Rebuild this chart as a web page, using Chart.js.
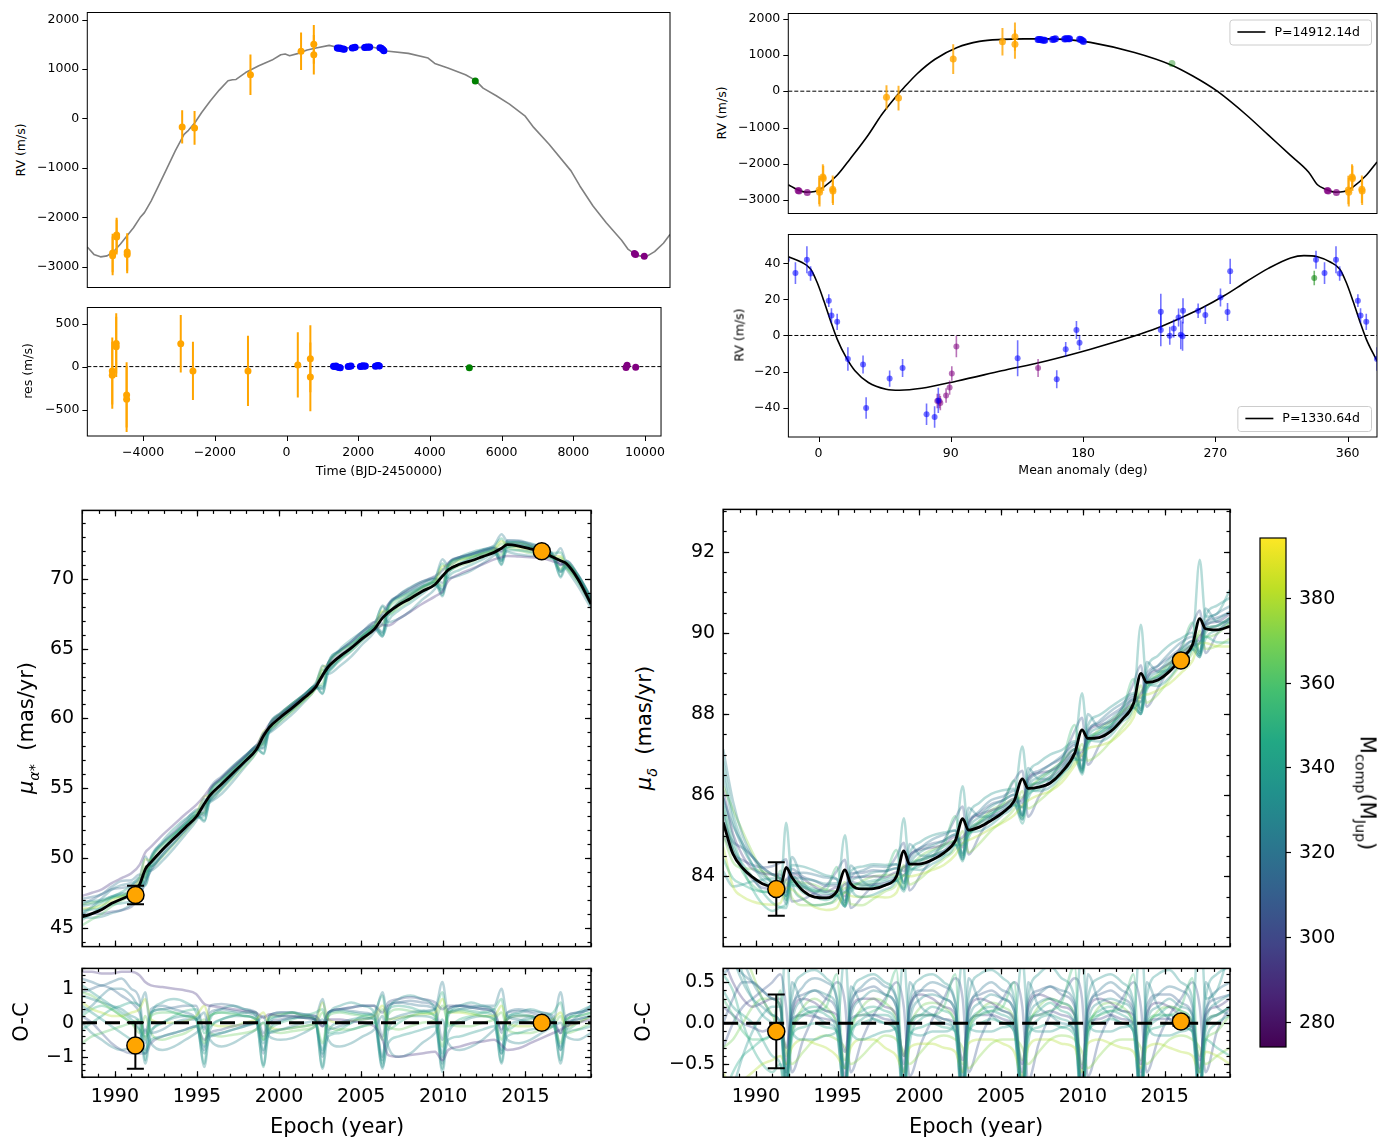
<!DOCTYPE html>
<html>
<head>
<meta charset="utf-8">
<title>RV orbit and proper motion fit</title>
<script src="https://cdn.jsdelivr.net/npm/chart.js@4.4.1/dist/chart.umd.min.js"></script>
<style>
  html, body { margin: 0; padding: 0; background: #fff; }
  body { position: relative; width: 1390px; height: 1140px; overflow: hidden; font-family: 'DejaVu Sans', sans-serif; }
  canvas { position: absolute; }
  .lbl { position: absolute; white-space: nowrap; line-height: 1; color: #000; }
  .lbl sub { font-size: 0.68em; }
</style>
</head>
<body>
<script>
// ---------- RV time series (top left) ----------
const TIME_LIM = [-5556, 10447];
const RV_LIM = [-3420, 2145];
const RES_LIM = [-808, 688];
const TIME_TICKS = [-4000, -2000, 0, 2000, 4000, 6000, 8000, 10000];
const RV_TICKS = [-3000, -2000, -1000, 0, 1000, 2000];
const RES_TICKS = [-500, 0, 500];

const modelTime = [-5556, -5374, -5193, -5012, -4831, -4650, -4469, -4287, -4106, -3986,
  -3804, -3623, -3382, -3140, -2899, -2778, -2597, -2415, -2174, -1932,
  -1691, -1570, -1470, -1208, -845, -483, -242, -121, 0, 242,
  483, 725, 1087, 1250, 1600, 2000, 2300, 2600, 2657, 3261,
  3804, 3986, 4348, 4831, 5097, 5314, 5676, 6039, 6461, 6703,
  7126, 7729, 7971, 8333, 8696, 9118, 9300, 9541, 9783, 10024,
  10266, 10447];
const modelRV = [-2600, -2750, -2800, -2780, -2690, -2545, -2380, -2210, -2005, -1905,
  -1670, -1400, -1030, -655, -320, -240, -80, 120, 360, 575,
  765, 785, 790, 930, 1068, 1182, 1290, 1304, 1270, 1318,
  1385, 1425, 1480, 1450, 1430, 1440, 1440, 1385, 1365, 1318,
  1223, 1115, 1020, 885, 777, 615, 460, 290, 55, -180,
  -520, -1060, -1365, -1770, -2110, -2465, -2650, -2770, -2800, -2695,
  -2525, -2345];

const orangeT = [-4860, -4860, -4750, -4750, -4460, -4460, -2950, -2610, -1075, 315, 665, 665];
const orangeRV = [-2720, -2780, -2360, -2400, -2700, -2750, -170, -190, 885, 1360, 1500, 1290];
const orangeRes = [-50, -100, 270, 230, -330, -380, 265, -50, -50, 20, 90, -120];
const orangeErr = [390, 390, 350, 350, 380, 380, 335, 340, 410, 380, 390, 400];
const orangeM = [0.5, 0.8, 3.0, 3.3, 9.7, 9.9, 46.3, 54.5, 91.7, 125.2, 133.7, 133.7];

const blueT = [1310, 1340, 1380, 1420, 1470, 1500, 1720, 1760, 1800, 2060, 2090, 2130, 2170, 2200, 2480, 2520, 2560, 2590];
const blueRV = [1425, 1420, 1425, 1410, 1405, 1400, 1425, 1430, 1440, 1435, 1440, 1445, 1440, 1445, 1430, 1420, 1395, 1370];
const blueRes = [5, 0, 8, -5, -10, -12, 0, 5, 8, 0, 5, 10, 5, 8, 5, 10, 12, 8];
const blueM = [149.4, 150.2, 151.1, 152.1, 153.3, 154.0, 159.3, 160.3, 161.3, 167.5, 168.3, 169.2, 170.2, 170.9, 177.7, 178.6, 179.6, 180.3];

const greenT = [5100];
const greenRV = [760];
const greenRes = [-12];
const greenM = [240.5];

const purpleT = [9470, 9500, 9740];
const purpleRV = [-2730, -2750, -2790];
const purpleRes = [-10, 15, -8];
const purpleM = [346.2, 346.8, 352.4];

// ---------- phase-folded orbits (top right) ----------
const PHASE_LIM = [-20.5, 380];
const PHASE_TICKS = [0, 90, 180, 270, 360];
const OUTER_LIM = [-3366, 2138];
const INNER_LIM = [-56.3, 56];
const INNER_TICKS = [-40, -20, 0, 20, 40];

const outerCurveM = [-20.5, -14.5, -8.5, -2.4, 3.6, 12.7, 21.8, 33.9, 43, 52,
  58.1, 67.2, 79.3, 94.4, 109.5, 124.6, 140, 155, 170, 185,
  215, 240, 254.7, 271.3, 291, 306, 321, 333.4, 339.5, 345.5,
  351.5, 357.6, 363.6, 372.7, 380];
const outerCurveRV = [-2574, -2704, -2778, -2759, -2639, -2315, -1852, -1204, -648, -185,
  93, 481, 880, 1204, 1370, 1425, 1440, 1440, 1420, 1343,
  1065, 722, 417, 0, -648, -1204, -1759, -2222, -2574, -2704,
  -2778, -2759, -2639, -2315, -1950];

const innerCurveM = [-20.5, -11.5, -5.4, -0.9, 3.6, 8.2, 12.7, 18.8, 24.8, 33.9,
  46, 55.1, 70.2, 94.4, 124.6, 154.9, 185.1, 215.4, 230.5, 245.6,
  260.8, 275.9, 291, 306.1, 321.2, 330.3, 339.5, 348.5, 354.6, 359.1,
  363.6, 368.2, 372.7, 378.8, 380];
const innerCurveRV = [43.7, 40.6, 36.9, 29.4, 19.3, 8.1, -2, -12.2, -19.6, -26.1,
  -29.8, -30.4, -29.3, -25.2, -19.6, -14.1, -7.6, -0.2, 4.1, 9.4,
  15.2, 22, 29.8, 37.2, 43, 44.3, 43.7, 40.6, 36.9, 29.4,
  19.3, 8.1, -2, -12.2, -14];

const innerBlueM = [344.3, 352.1, 354.6, 7.0, 8.8, 12.7, 20.0, 30.3, 32.4, 48.4,
  57.2, 73.5, 79.0, 81.5, 135.5, 162.1, 168.2, 175.5, 177.6, 232.9,
  232.9, 239.0, 241.7, 245.0, 246.5, 247.7, 248.0, 258.3, 263.2, 273.5,
  278.3, 280.1, 338.5];
const innerBlueRV = [34.6, 42.0, 34.4, 19.3, 11.1, 7.6, -13.0, -16.1, -40.2, -23.9,
  -18.0, -43.7, -45.2, -36.0, -12.6, -24.3, -7.6, 3.0, -4.0, 13.1,
  3.0, -0.2, 3.9, 10.0, 0.4, -0.4, 13.7, 13.7, 11.3, 21.1,
  13.0, 35.6, 42.0];
const innerBlueErr = [6, 7.5, 4, 3.5, 4, 4.5, 6.5, 5, 6, 4.5,
  5, 6, 6, 7, 10, 5, 4, 5, 4, 10,
  9, 5, 5, 5, 8, 8, 7, 4, 5, 5,
  5, 7, 5];
const innerPurpleM = [80.8, 82.3, 82.9, 86.8, 89.2, 90.7, 93.8, 149.4];
const innerPurpleRV = [-36.3, -36.3, -37.5, -33.3, -28.9, -21.1, -6.1, -18.0];
const innerPurpleErr = [4, 4, 4, 4, 4, 4, 6, 5];
const innerGreenM = [337.3];
const innerGreenRV = [31.9];
const innerGreenErr = [4];

// ---------- proper motions (bottom) ----------
const EPOCH_LIM = [1988, 2019];
const EPOCH_TICKS = [1990, 1995, 2000, 2005, 2010, 2015];
const PMRA_LIM = [43.64, 74.91];
const PMRA_TICKS = [45, 50, 55, 60, 65, 70];
const PMDEC_LIM = [82.27, 93.04];
const PMDEC_TICKS = [84, 86, 88, 90, 92];
const PMRA_OC_LIM = [-1.6, 1.6];
const PMRA_OC_TICKS = [-1, 0, 1];
const PMDEC_OC_LIM = [-0.66, 0.67];
const PMDEC_OC_TICKS = [-0.5, 0, 0.5];
const MASS_LIM = [274.1, 394.1];
const CBAR_TICKS = [280, 300, 320, 340, 360, 380];

const epochs = [1988.0, 1988.6, 1989.2, 1989.8, 1990.4, 1991.0, 1991.5,
  1991.85, 1992.2, 1992.9, 1993.6, 1994.3, 1994.95,
  1995.45, 1995.8, 1996.5, 1997.2, 1997.9, 1998.6,
  1999.05, 1999.4, 2000.1, 2000.8, 2001.5, 2002.2,
  2002.65, 2003.0, 2003.7, 2004.4, 2005.1, 2005.8,
  2006.3, 2006.65, 2007.3, 2008.0, 2008.7, 2009.5,
  2009.95, 2010.3, 2011.0, 2011.7, 2012.4, 2013.1,
  2013.55, 2013.9, 2014.6, 2015.3, 2016.0, 2016.7,
  2017.15, 2017.5, 2018.2, 2019.0];

const pmraBest = [45.77, 46.0, 46.3, 46.74, 47.05, 47.4, 48.1,
  49.2, 49.7, 50.6, 51.4, 52.2, 52.95,
  53.9, 54.5, 55.3, 56.1, 56.9, 57.75,
  58.75, 59.35, 60.1, 60.75, 61.45, 62.2,
  63.1, 63.7, 64.45, 65.05, 65.75, 66.4,
  67.2, 67.6, 68.15, 68.6, 69.1, 69.6,
  70.2, 70.65, 71.05, 71.3, 71.6, 71.9,
  72.2, 72.45, 72.35, 72.15, 71.95, 71.55,
  71.3, 71.1, 70.0, 68.2];

const pmdecBest = [85.33, 84.55, 84.2, 83.98, 83.82, 83.75, 83.74,
  84.22, 83.98, 83.64, 83.49, 83.47, 83.63,
  84.16, 83.82, 83.69, 83.70, 83.78, 84.0,
  84.63, 84.3, 84.31, 84.41, 84.58, 84.88,
  85.42, 85.14, 85.22, 85.38, 85.57, 85.86,
  86.4, 86.17, 86.2, 86.3, 86.56, 87.03,
  87.61, 87.4, 87.42, 87.57, 87.86, 88.26,
  89.0, 88.78, 88.84, 89.05, 89.36, 89.7,
  90.35, 90.1, 90.07, 90.16];

// posterior draws: O-C against the best fit, one row per draw
const pmraMass = [292, 330, 324, 362, 336, 304, 380, 342, 366, 318, 334, 328, 350, 312];
const pmraResid = [
  [1.5, 1.5, 1.45, 1.45, 1.5, 1.5, 1.4, 1.2, 1.1, 1.05, 1.0, 0.95, 0.85, 0.55, 0.5, 0.45, 0.4, 0.35, 0.3, 0.15, 0.25, 0.2, 0.2, 0.15, 0.1, -0.1, 0.1, 0.1, 0.05, 0.0, -0.1,
   -0.5, -0.95, -1.0, -0.95, -0.9, -0.85, -1.1, -0.8, -0.7, -0.6, -0.55, -0.5, -0.65, -0.8, -0.75, -0.6, -0.45, -0.3, -0.2, -0.1, 0.0, 0.1],
  [0.8, 0.7, 0.6, 0.5, 0.4, 0.2, 0.0, -1.2, -0.3, 0.0, 0.15, 0.2, 0.15, -1.3, -0.2, 0.1, 0.2, 0.2, 0.1, -1.25, -0.2, 0.05, 0.15, 0.15, 0.1, -1.35, -0.25, 0.0, 0.1, 0.15, 0.1,
   -1.35, -0.2, 0.1, 0.2, 0.2, 0.1, -1.45, -0.3, 0.0, 0.15, 0.2, 0.1, -1.2, -0.2, 0.05, 0.15, 0.15, 0.05, -1.2, -0.2, 0.1, 0.2],
  [0.3, 0.5, 0.8, 1.0, 1.0, 0.8, 0.5, 0.9, -0.3, -0.2, 0.0, 0.1, 0.1, 0.3, -0.4, -0.3, -0.2, -0.1, 0.0, 0.2, -0.3, -0.2, -0.1, 0.0, 0.1, 0.7, -0.2, -0.1, 0.0, 0.1, 0.2,
   0.9, 0.1, 0.2, 0.3, 0.35, 0.4, 1.2, 0.3, 0.4, 0.45, 0.5, 0.5, 1.0, 0.2, 0.1, 0.0, -0.1, 0.0, 0.9, 0.0, 0.2, 0.5],
  [-0.6, -0.4, -0.3, -0.2, -0.1, 0.0, 0.1, -0.5, 0.2, 0.3, 0.3, 0.2, 0.1, -0.6, 0.2, 0.3, 0.25, 0.2, 0.1, -0.5, 0.15, 0.25, 0.3, 0.2, 0.1, -0.6, 0.2, 0.3, 0.25, 0.2, 0.1,
   -0.5, 0.25, 0.4, 0.35, 0.3, 0.2, -0.7, 0.3, 0.35, 0.3, 0.2, 0.1, -0.5, 0.1, 0.2, 0.2, 0.1, 0.0, -0.6, 0.1, 0.2, 0.3],
  [1.1, 0.9, 0.7, 0.5, 0.3, 0.1, -0.2, -0.8, -0.5, -0.4, -0.3, -0.2, -0.1, -0.9, -0.4, -0.3, -0.2, -0.1, 0.0, -0.8, -0.3, -0.2, -0.15, -0.1, -0.05, -0.9, -0.4, -0.3, -0.2, -0.1, 0.0,
   -1.3, -0.6, -0.4, -0.3, -0.2, -0.1, -1.0, -0.5, -0.4, -0.3, -0.2, -0.1, -0.9, -0.4, -0.3, -0.2, -0.15, -0.1, -0.8, -0.3, -0.2, -0.1],
  [0.2, 0.0, -0.3, -0.6, -0.8, -0.9, -0.9, -0.9, -0.6, -0.4, -0.3, -0.2, -0.1, -0.5, -0.3, -0.2, -0.1, -0.05, 0.0, -0.4, 0.0, 0.1, 0.15, 0.2, 0.2, 0.0, 0.3, 0.4, 0.45, 0.5, 0.5,
   0.3, 0.6, 0.7, 0.75, 0.7, 0.6, 0.4, 0.5, 0.5, 0.45, 0.4, 0.3, -0.2, 0.1, 0.2, 0.2, 0.1, 0.0, -0.3, 0.0, 0.1, 0.2],
  [0.6, 0.4, 0.3, 0.2, 0.2, 0.3, 0.4, 0.7, 0.1, 0.0, 0.0, 0.05, 0.2, 0.5, 0.0, -0.1, -0.1, 0.0, 0.1, 0.3, -0.1, -0.2, -0.15, -0.1, 0.0, 0.6, 0.1, 0.0, 0.05, 0.1, 0.2,
   0.5, 0.1, 0.15, 0.2, 0.25, 0.3, 0.7, 0.3, 0.3, 0.25, 0.2, 0.2, 0.5, 0.0, -0.1, -0.1, 0.0, 0.1, 0.3, -0.1, 0.0, 0.2],
  [-0.2, 0.0, 0.2, 0.4, 0.5, 0.6, 0.5, -1.1, 0.3, 0.4, 0.3, 0.2, 0.1, -1.2, 0.2, 0.3, 0.3, 0.2, 0.1, -1.3, 0.1, 0.2, 0.2, 0.15, 0.1, -1.3, 0.3, 0.35, 0.3, 0.25, 0.2,
   -1.2, 0.4, 0.5, 0.45, 0.35, 0.2, -1.35, 0.3, 0.4, 0.35, 0.3, 0.2, -1.15, 0.2, 0.25, 0.2, 0.1, 0.0, -1.1, 0.1, 0.2, 0.3],
  [0.9, 0.8, 0.6, 0.4, 0.2, 0.0, -0.3, 0.2, -0.3, -0.5, -0.4, -0.3, -0.1, 0.1, -0.3, -0.4, -0.35, -0.3, -0.2, 0.0, -0.2, -0.3, -0.25, -0.2, -0.1, 0.3, -0.1, -0.2, -0.2, -0.1, 0.0,
   0.4, -0.1, -0.2, -0.1, 0.0, 0.1, 0.5, 0.0, -0.1, -0.1, 0.0, 0.1, 0.3, -0.2, -0.3, -0.3, -0.2, -0.1, 0.2, -0.3, -0.2, 0.0],
  [1.3, 1.2, 1.1, 1.2, 1.3, 1.0, 0.7, -0.6, 0.4, 0.5, 0.4, 0.3, 0.1, -0.8, 0.3, 0.4, 0.35, 0.3, 0.2, -0.9, 0.2, 0.3, 0.3, 0.2, 0.1, -1.0, 0.3, 0.4, 0.35, 0.3, 0.2,
   -1.1, 0.5, 0.6, 0.55, 0.5, 0.4, -1.2, 0.4, 0.5, 0.45, 0.4, 0.3, -0.9, 0.3, 0.4, 0.35, 0.3, 0.2, -0.8, 0.2, 0.3, 0.4],
  [0.5, 0.3, 0.1, -0.1, -0.3, -0.5, -0.7, -0.9, 0.2, 0.6, 0.7, 0.6, 0.3, -0.7, 0.1, 0.4, 0.5, 0.4, 0.2, -0.6, 0.0, 0.2, 0.3, 0.25, 0.1, -0.8, 0.2, 0.5, 0.6, 0.5, 0.3,
   -1.0, 0.3, 0.7, 0.8, 0.7, 0.4, -0.9, 0.2, 0.5, 0.6, 0.5, 0.3, -0.8, 0.1, 0.3, 0.4, 0.3, 0.1, -0.7, 0.0, 0.3, 0.5],
  [0.0, -0.3, -0.5, -0.7, -0.8, -0.7, -0.5, -0.2, -0.6, -0.8, -0.7, -0.5, -0.3, -0.1, -0.5, -0.7, -0.6, -0.4, -0.2, 0.0, -0.4, -0.5, -0.45, -0.3, -0.1, 0.1, -0.5, -0.7, -0.6, -0.4, -0.2,
   0.2, -0.7, -1.0, -0.9, -0.6, -0.3, 0.1, -0.6, -0.8, -0.7, -0.5, -0.2, 0.0, -0.5, -0.6, -0.5, -0.3, -0.1, 0.0, -0.4, -0.5, -0.3],
  [0.2, 0.4, 0.5, 0.4, 0.2, 0.0, -0.2, -0.4, -0.2, 0.0, 0.2, 0.35, 0.4, -0.3, -0.1, 0.1, 0.2, 0.3, 0.3, -0.5, -0.2, 0.0, 0.1, 0.2, 0.3, 0.4, -0.3, -0.2, 0.0, 0.2, 0.3,
   0.8, -0.2, 0.0, 0.2, 0.3, 0.4, 0.9, -0.1, 0.1, 0.2, 0.3, 0.4, 0.7, -0.2, 0.0, 0.1, 0.2, 0.3, 0.6, -0.2, 0.0, 0.2],
  [0.9, 1.0, 1.1, 1.0, 0.8, 0.6, 0.3, -0.3, 0.3, 0.4, 0.45, 0.5, 0.5, -0.2, 0.5, 0.55, 0.5, 0.4, 0.3, -0.3, 0.2, 0.3, 0.3, 0.25, 0.2, -0.1, 0.3, 0.4, 0.45, 0.5, 0.5,
   -0.4, 0.5, 0.6, 0.65, 0.6, 0.5, -0.5, 0.4, 0.5, 0.5, 0.45, 0.4, -0.3, 0.3, 0.35, 0.3, 0.2, 0.1, -0.3, 0.2, 0.3, 0.4]
];

const pmdecMass = [330, 345, 320, 336, 355, 300, 380, 294, 326, 368, 340, 310, 334, 372, 306, 344];
const pmdecResid = [
  [1.2, 0.8, 0.5, 0.3, 0.2, 0.1, 0.0, -0.7, 0.0, 0.3, 0.4, 0.35, 0.2, -0.75, 0.05, 0.3, 0.4, 0.35, 0.2, -0.8, 0.0, 0.3, 0.35, 0.3, 0.15, -0.95, 0.0, 0.25, 0.35, 0.3, 0.15,
   -0.9, 0.0, 0.25, 0.3, 0.25, 0.1, -1.0, 0.0, 0.25, 0.3, 0.25, 0.1, -0.95, 0.0, 0.2, 0.3, 0.2, 0.1, -0.9, 0.0, 0.25, 0.35],
  [-0.9, -0.6, -0.4, -0.3, -0.2, -0.15, -0.1, -0.6, -0.15, -0.05, 0.0, -0.05, -0.1, -0.55, -0.1, 0.0, 0.05, 0.0, -0.1, -0.6, -0.15, -0.05, 0.0, -0.05, -0.1, -0.65, -0.1, 0.0, 0.05, 0.0, -0.1,
   -0.7, -0.15, -0.05, 0.0, -0.05, -0.15, -0.75, -0.1, 0.0, 0.05, 0.0, -0.1, -0.7, -0.15, -0.05, 0.0, -0.05, -0.1, -0.6, -0.2, -0.3, -0.4],
  [0.6, 0.7, 0.6, 0.5, 0.4, 0.3, 0.2, -0.7, 0.1, 0.45, 0.55, 0.5, 0.3, -0.8, 0.15, 0.45, 0.55, 0.45, 0.3, -0.75, 0.1, 0.4, 0.5, 0.45, 0.25, -0.85, 0.1, 0.4, 0.5, 0.4, 0.25,
   -0.9, 0.1, 0.35, 0.45, 0.4, 0.25, -0.95, 0.1, 0.4, 0.5, 0.4, 0.2, -0.9, 0.05, 0.35, 0.45, 0.4, 0.2, -0.85, 0.1, 0.4, 0.5],
  [1.5, 1.0, 0.6, 0.3, 0.1, 0.0, -0.1, 1.1, -0.1, -0.2, -0.2, -0.15, -0.1, 0.85, -0.1, -0.2, -0.15, -0.1, -0.05, 0.8, -0.1, -0.15, -0.1, -0.1, 0.0, 0.8, -0.05, -0.1, -0.1, -0.05, 0.0,
   0.8, 0.0, -0.1, -0.1, -0.05, 0.05, 0.9, 0.0, -0.1, -0.1, -0.05, 0.0, 1.2, 0.0, -0.15, -0.15, -0.1, 0.0, 1.45, 0.3, 0.4, 0.9],
  [0.3, 0.1, -0.1, -0.2, -0.2, -0.1, 0.4, -0.8, 0.0, 0.1, 0.15, 0.2, 0.6, -0.85, 0.0, 0.1, 0.15, 0.25, 0.65, -0.9, 0.0, 0.1, 0.1, 0.2, 0.6, -0.9, 0.0, 0.1, 0.15, 0.2, 0.5,
   -0.95, 0.05, 0.1, 0.15, 0.25, 0.7, -1.0, 0.0, 0.1, 0.15, 0.2, 0.6, -0.9, 0.0, 0.1, 0.1, 0.2, 0.55, -0.85, 0.0, 0.1, 0.2],
  [0.2, 0.1, 0.0, -0.05, -0.1, -0.05, 0.0, -0.3, 0.05, 0.1, 0.08, 0.05, 0.0, -0.35, 0.05, 0.1, 0.1, 0.05, 0.0, -0.4, 0.0, 0.1, 0.1, 0.05, 0.0, -0.45, 0.0, 0.1, 0.1, 0.05, -0.05,
   -0.5, 0.0, 0.1, 0.15, 0.1, 0.0, -0.55, 0.0, 0.05, 0.1, 0.05, 0.0, -0.5, 0.0, 0.05, 0.05, 0.0, -0.05, -0.45, 0.0, 0.1, 0.2],
  [-0.6, -0.8, -0.7, -0.6, -0.5, -0.45, -0.4, -0.5, -0.3, -0.2, -0.25, -0.3, -0.4, -0.55, -0.3, -0.2, -0.2, -0.3, -0.4, -0.6, -0.3, -0.25, -0.25, -0.3, -0.35, -0.6, -0.25, -0.2, -0.2, -0.25, -0.35,
   -0.65, -0.3, -0.2, -0.2, -0.25, -0.3, -0.6, -0.25, -0.2, -0.25, -0.3, -0.35, -0.55, -0.3, -0.25, -0.3, -0.35, -0.4, -0.6, -0.35, -0.4, -0.5],
  [0.8, 0.5, 0.3, 0.2, 0.25, 0.3, 0.3, -0.6, 0.1, 0.3, 0.25, 0.15, 0.1, -0.65, 0.15, 0.3, 0.3, 0.2, 0.1, -0.6, 0.2, 0.35, 0.3, 0.2, 0.1, -0.7, 0.15, 0.3, 0.25, 0.15, 0.05,
   -0.7, 0.2, 0.35, 0.3, 0.2, 0.1, -0.75, 0.15, 0.3, 0.25, 0.15, 0.1, -0.7, 0.1, 0.25, 0.2, 0.1, 0.0, -0.6, 0.1, 0.2, 0.3],
  [1.8, 1.3, 0.8, 0.5, 0.3, 0.1, 0.0, -0.9, 0.5, 0.2, 0.1, 0.0, -0.1, -0.9, 0.45, 0.2, 0.05, 0.0, -0.1, -0.95, 0.5, 0.2, 0.1, 0.0, -0.1, -1.0, 0.55, 0.25, 0.1, 0.0, -0.1,
   -1.0, 0.5, 0.2, 0.1, 0.0, -0.1, -1.05, 0.6, 0.25, 0.1, 0.0, -0.1, -1.0, 0.5, 0.2, 0.05, -0.05, -0.1, -0.95, 0.5, 0.2, 0.1],
  [-0.3, -0.2, 0.0, 0.2, 0.3, 0.3, 0.2, -0.4, -0.1, 0.2, 0.3, 0.2, 0.0, -0.45, -0.1, 0.2, 0.3, 0.25, 0.05, -0.4, -0.05, 0.2, 0.25, 0.2, 0.0, -0.5, -0.1, 0.15, 0.25, 0.2, 0.05,
   -0.45, -0.05, 0.2, 0.3, 0.25, 0.1, -0.5, -0.1, 0.2, 0.25, 0.2, 0.0, -0.45, -0.1, 0.15, 0.2, 0.15, 0.0, -0.4, -0.2, -0.1, 0.1],
  [0.4, 0.2, 0.1, 0.0, -0.2, -0.4, -0.5, -1.0, -0.2, 0.1, 0.15, 0.1, -0.1, -0.9, -0.2, 0.05, 0.1, 0.1, -0.1, -1.0, -0.25, 0.05, 0.1, 0.05, -0.1, -1.05, -0.2, 0.1, 0.15, 0.1, -0.05,
   -1.1, -0.25, 0.05, 0.1, 0.05, -0.1, -1.1, -0.2, 0.1, 0.15, 0.1, -0.1, -1.0, -0.2, 0.05, 0.1, 0.05, -0.1, -0.95, -0.25, 0.0, 0.1],
  [0.0, 0.3, 0.5, 0.5, 0.4, 0.3, 0.2, -0.5, 0.2, 0.35, 0.4, 0.3, 0.15, -0.55, 0.25, 0.4, 0.45, 0.35, 0.2, -0.5, 0.2, 0.4, 0.4, 0.3, 0.15, -0.6, 0.2, 0.35, 0.4, 0.3, 0.15,
   -0.6, 0.25, 0.4, 0.45, 0.35, 0.2, -0.65, 0.2, 0.35, 0.4, 0.3, 0.15, -0.6, 0.2, 0.35, 0.35, 0.25, 0.1, -0.55, 0.15, 0.3, 0.35],
  [-1.2, -0.8, -0.4, -0.1, 0.1, 0.2, 0.2, -0.8, 0.3, 0.6, 0.65, 0.55, 0.3, -0.85, 0.3, 0.55, 0.6, 0.5, 0.3, -0.8, 0.25, 0.55, 0.6, 0.5, 0.25, -0.9, 0.3, 0.6, 0.65, 0.55, 0.3,
   -0.9, 0.3, 0.6, 0.7, 0.55, 0.3, -0.95, 0.3, 0.55, 0.6, 0.5, 0.25, -0.85, 0.3, 0.6, 0.65, 0.5, 0.3, -0.8, 0.3, 0.6, 0.7],
  [0.9, 1.1, 0.9, 0.6, 0.3, 0.1, -0.1, -0.3, -0.5, -0.35, -0.2, -0.15, -0.2, -0.3, -0.5, -0.4, -0.25, -0.15, -0.2, -0.35, -0.5, -0.35, -0.2, -0.15, -0.2, -0.3, -0.55, -0.4, -0.25, -0.2, -0.2,
   -0.3, -0.5, -0.35, -0.2, -0.15, -0.2, -0.35, -0.55, -0.4, -0.25, -0.2, -0.2, -0.3, -0.5, -0.35, -0.2, -0.15, -0.2, -0.3, -0.5, -0.4, -0.3],
  [-0.3, 0.0, 0.2, 0.3, 0.4, 0.5, 0.6, 0.2, -0.6, -0.2, 0.1, 0.3, 0.5, 0.25, -0.6, -0.2, 0.1, 0.3, 0.5, 0.2, -0.65, -0.25, 0.05, 0.3, 0.55, 0.3, -0.6, -0.2, 0.1, 0.3, 0.5,
   0.2, -0.7, -0.25, 0.1, 0.3, 0.55, 0.3, -0.65, -0.2, 0.1, 0.3, 0.5, 0.2, -0.6, -0.2, 0.1, 0.3, 0.5, 0.2, -0.6, -0.1, 0.2],
  [0.6, 0.4, 0.0, -0.3, -0.5, -0.6, -0.5, -0.9, -0.1, 0.15, 0.2, 0.15, 0.0, -0.9, -0.1, 0.15, 0.2, 0.15, 0.0, -0.95, -0.1, 0.1, 0.2, 0.15, 0.0, -1.0, -0.1, 0.15, 0.2, 0.15, 0.0,
   -1.0, -0.1, 0.15, 0.25, 0.15, 0.0, -1.05, -0.1, 0.15, 0.2, 0.15, 0.0, -1.0, -0.1, 0.1, 0.2, 0.15, 0.0, -0.9, -0.1, 0.1, 0.2]
];

// Hipparcos and Gaia measurements
const obsEpoch = [1991.25, 2016.0];
const pmraObs = [47.34, 71.98];
const pmraErr = [0.66, 0.05];
const pmraOC = [-0.67, 0.0];
const pmraOCErr = [0.68, 0.05];
const pmdecObs = [83.69, 89.32];
const pmdecErr = [0.66, 0.05];
const pmdecOC = [-0.10, 0.02];
const pmdecOCErr = [0.45, 0.05];

// ---------- drawing ----------
const FONT = "'DejaVu Sans', sans-serif";
const fmtInt = v => String(v).replace('-', '\u2212');
const fmtOne = v => v.toFixed(1).replace('-', '\u2212');
const steps = (a, b, s) => { const out = []; for (let v = a; v <= b + 1e-9; v += s) out.push(+v.toFixed(4)); return out; };

const VIRIDIS = [[68, 1, 84], [72, 36, 117], [65, 68, 135], [53, 95, 141], [42, 120, 142], [33, 145, 140],
  [34, 168, 132], [68, 191, 112], [122, 209, 81], [189, 223, 38], [253, 231, 37]];
function viridis(t) {
  t = Math.max(0, Math.min(1, t));
  const s = t * 10, i = Math.min(9, Math.floor(s)), f = s - i;
  return VIRIDIS[i].map((c, k) => Math.round(c + (VIRIDIS[i + 1][k] - c) * f));
}
function massColor(m, a) {
  const c = viridis((m - MASS_LIM[0]) / (MASS_LIM[1] - MASS_LIM[0]));
  return `rgba(${c[0]},${c[1]},${c[2]},${a})`;
}

// vertical error bars, drawn just before the markers they belong to
const errorBars = {
  id: 'errorBars',
  beforeDatasetDraw(chart, args) {
    const ds = chart.data.datasets[args.index];
    if (!ds.err) return;
    const xs = chart.scales.x, ys = chart.scales.y, ctx = chart.ctx, a = chart.chartArea;
    ctx.save();
    ctx.beginPath();
    ctx.rect(a.left, a.top, a.right - a.left, a.bottom - a.top);
    ctx.clip();
    ctx.strokeStyle = ds.errColor;
    ctx.lineWidth = ds.errWidth || 1.5;
    ds.data.forEach((p, i) => {
      const e = ds.err[i];
      if (!e) return;
      const px = xs.getPixelForValue(p.x);
      const y1 = ys.getPixelForValue(p.y - e), y2 = ys.getPixelForValue(p.y + e);
      ctx.beginPath();
      ctx.moveTo(px, y1); ctx.lineTo(px, y2);
      if (ds.cap) {
        ctx.moveTo(px - ds.cap, y1); ctx.lineTo(px + ds.cap, y1);
        ctx.moveTo(px - ds.cap, y2); ctx.lineTo(px + ds.cap, y2);
      }
      ctx.stroke();
    });
    ctx.restore();
  }
};

// axes box plus tick marks (inward for the proper motion panels)
const frame = {
  id: 'frame',
  afterDraw(chart) {
    const o = chart.config.options.plugins.frame;
    if (!o) return;
    const a = chart.chartArea, ctx = chart.ctx;
    const d = o.inward ? 1 : -1;
    ctx.save();
    ctx.strokeStyle = '#000';
    ctx.lineWidth = o.tickWidth;
    const draw = (vals, len, scale, sides) => {
      vals.forEach(v => {
        if (v < scale.min - 1e-9 || v > scale.max + 1e-9) return;
        const p = Math.round(scale.getPixelForValue(v)) + 0.5;
        sides.forEach(side => {
          ctx.beginPath();
          if (side === 'bottom') { ctx.moveTo(p, a.bottom); ctx.lineTo(p, a.bottom - d * len); }
          if (side === 'top') { ctx.moveTo(p, a.top); ctx.lineTo(p, a.top + d * len); }
          if (side === 'left') { ctx.moveTo(a.left, p); ctx.lineTo(a.left + d * len, p); }
          if (side === 'right') { ctx.moveTo(a.right, p); ctx.lineTo(a.right - d * len, p); }
          ctx.stroke();
        });
      });
    };
    draw(o.xMajor || [], o.majorLen, chart.scales.x, o.xSides || []);
    draw(o.xMinor || [], o.minorLen, chart.scales.x, o.xSides || []);
    draw(o.yMajor || [], o.majorLen, chart.scales.y, o.ySides || []);
    draw(o.yMinor || [], o.minorLen, chart.scales.y, o.ySides || []);
    ctx.lineWidth = o.width;
    ctx.strokeRect(a.left, a.top, a.right - a.left, a.bottom - a.top);
    // tick labels to the right of the box (colour bar)
    if (o.rightLabels) {
      ctx.fillStyle = '#000';
      ctx.font = `${o.labelSize}px ${FONT}`;
      ctx.textAlign = 'left';
      ctx.textBaseline = 'middle';
      o.yMajor.forEach(v => ctx.fillText(fmtInt(v), a.right + o.labelPad, chart.scales.y.getPixelForValue(v) + 1));
    }
    ctx.restore();
  }
};

// small framed legend with a single line entry
const boxLegend = {
  id: 'boxLegend',
  afterDraw(chart) {
    const o = chart.config.options.plugins.boxLegend;
    if (!o) return;
    const a = chart.chartArea, ctx = chart.ctx;
    ctx.save();
    ctx.font = `12.5px ${FONT}`;
    const w = ctx.measureText(o.text).width + 56, h = 25;
    const x = a.right - 6 - w;
    const y = o.corner === 'top' ? a.top + 6 : a.bottom - 6 - h;
    ctx.beginPath();
    ctx.roundRect(x + 0.5, y + 0.5, w, h, 3);
    ctx.fillStyle = 'rgba(255,255,255,0.8)';
    ctx.fill();
    ctx.strokeStyle = '#cccccc';
    ctx.lineWidth = 1;
    ctx.stroke();
    ctx.beginPath();
    ctx.moveTo(x + 8, y + h / 2); ctx.lineTo(x + 36, y + h / 2);
    ctx.strokeStyle = '#000';
    ctx.lineWidth = 1.6;
    ctx.stroke();
    ctx.fillStyle = '#000';
    ctx.textBaseline = 'middle';
    ctx.fillText(o.text, x + 45, y + h / 2 + 0.5);
    ctx.restore();
  }
};

// viridis ramp filling the colour bar
const colorRamp = {
  id: 'colorRamp',
  beforeDatasetsDraw(chart) {
    if (!chart.config.options.plugins.colorRamp) return;
    const a = chart.chartArea, ctx = chart.ctx;
    const g = ctx.createLinearGradient(0, a.bottom, 0, a.top);
    VIRIDIS.forEach((c, i) => g.addColorStop(i / 10, `rgb(${c[0]},${c[1]},${c[2]})`));
    ctx.fillStyle = g;
    ctx.fillRect(a.left, a.top, a.right - a.left, a.bottom - a.top);
  }
};

function axisCfg(lim, ticks, fmt, show, size, pad, position) {
  return {
    type: 'linear', position: position, min: lim[0], max: lim[1],
    grid: { display: false, drawTicks: false }, border: { display: false },
    afterBuildTicks: s => { s.ticks = ticks.map(v => ({ value: v })); },
    ticks: { display: show, autoSkip: false, maxRotation: 0, padding: pad, color: '#000',
      font: { family: FONT, size: size }, callback: v => fmt(v) }
  };
}

function chartCfg(datasets, xAxis, yAxis, frameOpts, extra, padding) {
  return {
    type: 'scatter',
    data: { datasets: datasets },
    options: {
      responsive: false, maintainAspectRatio: false, animation: false, devicePixelRatio: 1, events: [],
      layout: { padding: padding || 0 },
      scales: { x: xAxis, y: yAxis },
      plugins: Object.assign({ legend: { display: false }, tooltip: { enabled: false }, frame: frameOpts }, extra || {})
    },
    plugins: [errorBars, frame, boxLegend, colorRamp]
  };
}

function markers(xs, ys, color, radius, extra) {
  return Object.assign({
    data: xs.map((x, i) => ({ x: x, y: ys[i] })),
    showLine: false, pointRadius: radius, pointBackgroundColor: color,
    pointBorderColor: color, pointBorderWidth: 0, order: 0, clip: 0
  }, extra || {});
}

function curve(xs, ys, color, width, smooth, order) {
  return {
    data: xs.map((x, i) => ({ x: x, y: ys[i] })),
    showLine: true, pointRadius: 0, borderColor: color, borderWidth: width,
    cubicInterpolationMode: smooth ? 'monotone' : 'default', tension: 0,
    borderJoinStyle: 'round', order: order === undefined ? 1 : order, clip: 0
  };
}

function zeroLine(xLim, width, dash) {
  return Object.assign(curve(xLim, [0, 0], '#000', width, false, 1), { borderDash: dash });
}

// repeat phase-folded points one cycle either side when they land inside the axis
function fold(ms, vs, es) {
  const out = { x: [], y: [], e: [] };
  ms.forEach((m, i) => {
    [m - 360, m, m + 360].forEach(s => {
      if (s >= PHASE_LIM[0] - 2 && s <= PHASE_LIM[1] + 2) {
        out.x.push(s); out.y.push(vs[i]); out.e.push(es ? es[i] : 0);
      }
    });
  });
  return out;
}

function drawSamples(best, resid, mass, residOnly) {
  return resid.map((r, k) => ({
    data: epochs.map((t, i) => ({ x: t, y: residOnly ? r[i] : best[i] + r[i] })),
    showLine: true, pointRadius: 0, borderWidth: 2.5, borderColor: massColor(mass[k], 0.33),
    cubicInterpolationMode: 'monotone', order: 2, clip: 0
  }));
}

function addPanel(box, makeCfg) {
  const build = (w, h, left, top) => {
    const cv = document.createElement('canvas');
    cv.width = w; cv.height = h;
    cv.style.left = left + 'px'; cv.style.top = top + 'px';
    cv.style.width = w + 'px'; cv.style.height = h + 'px';
    document.body.appendChild(cv);
    return new Chart(cv, makeCfg());
  };
  const probe = build(1000, 800, 0, 0);
  const a = probe.chartArea;
  const pad = [a.left, a.top, 1000 - a.right, 800 - a.bottom];
  const old = probe.canvas;
  probe.destroy();
  old.remove();
  const w = box[2] - box[0], h = box[3] - box[1];
  return build(Math.round(w + pad[0] + pad[2]), Math.round(h + pad[1] + pad[3]),
    Math.round(box[0] - pad[0]), Math.round(box[1] - pad[1]));
}

function addText(html, cx, cy, size, rot) {
  const d = document.createElement('div');
  d.className = 'lbl';
  d.innerHTML = html;
  d.style.left = cx + 'px';
  d.style.top = cy + 'px';
  d.style.font = `${size}px ${FONT}`;
  d.style.transform = `translate(-50%, -50%) rotate(${rot || 0}deg)`;
  document.body.appendChild(d);
}

const TOP_FS = 12.5, BOT_FS = 19;
const topFrame = (xTicks, yTicks) => ({
  width: 1, tickWidth: 1, majorLen: 5, minorLen: 0, inward: false,
  xSides: xTicks ? ['bottom'] : [], ySides: ['left'], xMajor: xTicks || [], yMajor: yTicks
});
const botFrame = (yTicks, yMinor) => ({
  width: 1.5, tickWidth: 1.2, majorLen: 6, minorLen: 3.5, inward: true,
  xSides: ['bottom', 'top'], ySides: ['left', 'right'],
  xMajor: EPOCH_TICKS, xMinor: steps(1988, 2019, 1), yMajor: yTicks, yMinor: yMinor
});

// RV against time
addPanel([87, 12, 670, 287], () => chartCfg([
  markers(orangeT, orangeRV, 'orange', 3.5, { err: orangeErr, errColor: 'orange', errWidth: 2 }),
  markers(blueT, blueRV, 'blue', 3.5),
  markers(greenT, greenRV, 'green', 3.5),
  markers(purpleT, purpleRV, 'purple', 3.5),
  curve(modelTime, modelRV, 'gray', 1.6, false)
], axisCfg(TIME_LIM, TIME_TICKS, fmtInt, false, TOP_FS, 8, 'bottom'),
   axisCfg(RV_LIM, RV_TICKS, fmtInt, true, TOP_FS, 8, 'left'),
   topFrame(null, RV_TICKS)));

// residuals against time
addPanel([87, 307, 670, 435], () => chartCfg([
  markers(orangeT, orangeRes, 'orange', 3.5, { err: orangeErr, errColor: 'orange', errWidth: 2 }),
  markers(blueT, blueRes, 'blue', 3.5),
  markers(greenT, greenRes, 'green', 3.5),
  markers(purpleT, purpleRes, 'purple', 3.5),
  zeroLine(TIME_LIM, 1, [4, 2])
], axisCfg(TIME_LIM, TIME_TICKS, fmtInt, true, TOP_FS, 9, 'bottom'),
   axisCfg(RES_LIM, RES_TICKS, fmtInt, true, TOP_FS, 8, 'left'),
   topFrame(TIME_TICKS, RES_TICKS)));

// outer companion, folded
const fOrange = fold(orangeM, orangeRV, orangeErr);
const fBlue = fold(blueM, blueRV);
const fGreen = fold(greenM, greenRV);
const fPurple = fold(purpleM, purpleRV);
addPanel([788, 13, 1377, 213], () => chartCfg([
  markers(fOrange.x, fOrange.y, 'rgba(255,165,0,0.8)', 3.5, { err: fOrange.e, errColor: 'rgba(255,165,0,0.8)', errWidth: 2 }),
  markers(fBlue.x, fBlue.y, 'rgba(0,0,255,0.75)', 3.5),
  markers(fGreen.x, fGreen.y, 'rgba(0,128,0,0.4)', 3.5),
  markers(fPurple.x, fPurple.y, 'rgba(128,0,128,0.7)', 3.5),
  curve(outerCurveM, outerCurveRV, '#000', 1.6, true),
  zeroLine(PHASE_LIM, 1, [4, 2])
], axisCfg(PHASE_LIM, PHASE_TICKS, fmtInt, false, TOP_FS, 8, 'bottom'),
   axisCfg(OUTER_LIM, RV_TICKS, fmtInt, true, TOP_FS, 8, 'left'),
   topFrame(null, RV_TICKS), { boxLegend: { text: 'P=14912.14d', corner: 'top' } }));

// inner companion, folded
const iBlue = fold(innerBlueM, innerBlueRV, innerBlueErr);
const iPurple = fold(innerPurpleM, innerPurpleRV, innerPurpleErr);
const iGreen = fold(innerGreenM, innerGreenRV, innerGreenErr);
addPanel([788, 234, 1377, 436], () => chartCfg([
  markers(iBlue.x, iBlue.y, 'rgba(0,0,255,0.55)', 3, { err: iBlue.e, errColor: 'rgba(0,0,255,0.55)', errWidth: 1.6 }),
  markers(iPurple.x, iPurple.y, 'rgba(128,0,128,0.55)', 3, { err: iPurple.e, errColor: 'rgba(128,0,128,0.55)', errWidth: 1.6 }),
  markers(iGreen.x, iGreen.y, 'rgba(0,128,0,0.55)', 3, { err: iGreen.e, errColor: 'rgba(0,128,0,0.55)', errWidth: 1.6 }),
  curve(innerCurveM, innerCurveRV, '#000', 1.6, true),
  zeroLine(PHASE_LIM, 1, [4, 2])
], axisCfg(PHASE_LIM, PHASE_TICKS, fmtInt, true, TOP_FS, 9, 'bottom'),
   axisCfg(INNER_LIM, INNER_TICKS, fmtInt, true, TOP_FS, 8, 'left'),
   topFrame(PHASE_TICKS, INNER_TICKS), { boxLegend: { text: 'P=1330.64d', corner: 'bottom' } }));

const obsStyle = { pointBackgroundColor: '#FFA500', pointBorderColor: '#000', pointBorderWidth: 1.5,
  errColor: '#000', errWidth: 2, cap: 8.5 };

// proper motion in RA
addPanel([82, 510, 591, 946], () => chartCfg([
  markers(obsEpoch, pmraObs, '#FFA500', 8.5, Object.assign({ err: pmraErr }, obsStyle)),
  curve(epochs, pmraBest, '#000', 2.8, true),
  ...drawSamples(pmraBest, pmraResid, pmraMass, false)
], axisCfg(EPOCH_LIM, EPOCH_TICKS, fmtInt, false, BOT_FS, 8, 'bottom'),
   axisCfg(PMRA_LIM, PMRA_TICKS, fmtInt, true, BOT_FS, 8, 'left'),
   botFrame(PMRA_TICKS, steps(44, 74, 1))));

addPanel([82, 968, 591, 1077], () => chartCfg([
  markers(obsEpoch, pmraOC, '#FFA500', 8.5, Object.assign({ err: pmraOCErr }, obsStyle)),
  zeroLine(EPOCH_LIM, 3, [15, 8]),
  ...drawSamples(pmraBest, pmraResid, pmraMass, true)
], axisCfg(EPOCH_LIM, EPOCH_TICKS, fmtInt, true, BOT_FS, 8, 'bottom'),
   axisCfg(PMRA_OC_LIM, PMRA_OC_TICKS, fmtInt, true, BOT_FS, 8, 'left'),
   botFrame(PMRA_OC_TICKS, steps(-1.6, 1.6, 0.2))));

// proper motion in Dec
addPanel([723, 509, 1230, 946], () => chartCfg([
  markers(obsEpoch, pmdecObs, '#FFA500', 8.5, Object.assign({ err: pmdecErr }, obsStyle)),
  curve(epochs, pmdecBest, '#000', 2.8, true),
  ...drawSamples(pmdecBest, pmdecResid, pmdecMass, false)
], axisCfg(EPOCH_LIM, EPOCH_TICKS, fmtInt, false, BOT_FS, 8, 'bottom'),
   axisCfg(PMDEC_LIM, PMDEC_TICKS, fmtInt, true, BOT_FS, 8, 'left'),
   botFrame(PMDEC_TICKS, steps(82.5, 93, 0.5))));

addPanel([723, 968, 1230, 1077], () => chartCfg([
  markers(obsEpoch, pmdecOC, '#FFA500', 8.5, Object.assign({ err: pmdecOCErr }, obsStyle)),
  zeroLine(EPOCH_LIM, 3, [15, 8]),
  ...drawSamples(pmdecBest, pmdecResid, pmdecMass, true)
], axisCfg(EPOCH_LIM, EPOCH_TICKS, fmtInt, true, BOT_FS, 8, 'bottom'),
   axisCfg(PMDEC_OC_LIM, PMDEC_OC_TICKS, fmtOne, true, BOT_FS, 8, 'left'),
   botFrame(PMDEC_OC_TICKS, steps(-0.6, 0.6, 0.1))));

// colour bar for companion mass
addPanel([1260, 538, 1286, 1047], () => chartCfg([],
  { type: 'linear', display: false, min: 0, max: 1 },
  axisCfg(MASS_LIM, CBAR_TICKS, fmtInt, false, BOT_FS, 12, 'right'),
  { width: 1.2, tickWidth: 1.2, majorLen: 5, minorLen: 0, inward: false, ySides: ['right'], yMajor: CBAR_TICKS,
    rightLabels: true, labelSize: BOT_FS, labelPad: 13 },
  { colorRamp: true }, { left: 4, right: 70, top: 4, bottom: 4 }));

// axis titles
addText('RV (m/s)', 20, 150, TOP_FS, -90);
addText('res (m/s)', 27, 371, TOP_FS, -90);
addText('Time (BJD-2450000)', 379, 470, TOP_FS, 0);
addText('RV (m/s)', 721, 113, TOP_FS, -90);
addText('RV (m/s)', 739, 335, TOP_FS, -90);
addText('Mean anomaly (deg)', 1083, 469, TOP_FS, 0);
addText('<i>μ</i><sub><i>α</i>*</sub>&nbsp; (mas/yr)', 28, 728, 21, -90);
addText('O-C', 21, 1022, 21, -90);
addText('Epoch (year)', 337, 1126, 21, 0);
addText('<i>μ</i><sub><i>δ</i></sub>&nbsp; (mas/yr)', 646, 728, 21, -90);
addText('O-C', 643, 1022, 21, -90);
addText('Epoch (year)', 976, 1126, 21, 0);
addText('M<sub>comp</sub>(M<sub>Jup</sub>)', 1366, 793, 21, 90);
</script>
</body>
</html>
